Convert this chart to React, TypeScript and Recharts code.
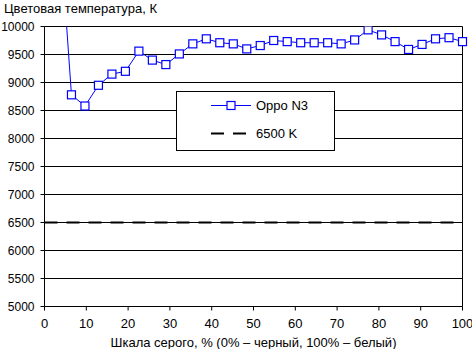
import { LineChart, Line, XAxis, YAxis, CartesianGrid, ReferenceLine } from 'recharts';

// gray level steps, 32 points from 0% to 100%
const steps = Array.from({ length: 32 }, (_, i) => i);
const grayLevels = steps.map((i) => (i * 100) / 31);

// measured color temperature, K (first two points lie above the plot)
const oppoN3 = [
  13500, 12200, 8780, 8580, 8950, 9150, 9200, 9560, 9400, 9320, 9510, 9690, 9780, 9710, 9690, 9600,
  9660, 9750, 9730, 9710, 9710, 9710, 9690, 9760, 9940, 9850, 9730, 9590, 9680, 9780, 9800, 9730,
];
const reference = 6500;

const xTicks = [0, 10, 20, 30, 40, 50, 60, 70, 80, 90, 100];
const yTicks = [5000, 5500, 6000, 6500, 7000, 7500, 8000, 8500, 9000, 9500, 10000];

const data = grayLevels.map((x, i) => ({ x, oppo: oppoN3[i], ref: reference }));

const FONT = '"Liberation Sans", Arial, sans-serif';
const BLUE = '#0000ff';

const SquareDot = (props: any) => {
  const { cx, cy, index } = props;
  if (cx == null || cy == null) return <g key={index} />;
  return (
    <rect key={index} x={cx - 4} y={cy - 4} width={8} height={8} fill="#fff" stroke={BLUE} strokeWidth={1.2} />
  );
};

// legend box drawn on top of the plot, as in the original
const LegendBox = () => (
  <div
    style={{
      position: 'absolute',
      left: 176,
      top: 91,
      width: 157,
      height: 58,
      border: '1px solid #000',
      background: '#fff',
    }}
  >
    <svg width={157} height={58} style={{ position: 'absolute', left: 0, top: 0 }}>
      <line x1={34} x2={74} y1={13.5} y2={13.5} stroke={BLUE} strokeWidth={1} />
      <rect x={50} y={9.5} width={8} height={8} fill="#fff" stroke={BLUE} strokeWidth={1.2} />
      <text x={79} y={18} fontFamily={FONT} fontSize={13} fill="#000">Oppo N3</text>
      <line x1={34} x2={74} y1={41.5} y2={41.5} stroke="#000" strokeWidth={2} strokeDasharray="13 9" />
      <text x={79} y={46} fontFamily={FONT} fontSize={13} fill="#000">6500 K</text>
    </svg>
  </div>
);

export default function App() {
  return (
    <div style={{ position: 'absolute', left: 0, top: 0, width: 472, height: 349, background: '#fff' }}>
      <div style={{ position: 'absolute', left: 4, top: 1, fontFamily: FONT, fontSize: 13, color: '#000' }}>
        Цветовая температура, К
      </div>
      <LineChart
        width={472}
        height={349}
        data={data}
        margin={{ top: 26.5, right: 9.5, bottom: 0, left: 0 }}
      >
        <CartesianGrid horizontal vertical={false} stroke="#000" strokeOpacity={1} />
        <XAxis
          dataKey="x"
          type="number"
          domain={[0, 100]}
          ticks={xTicks}
          interval={0}
          height={42.5}
          stroke="#000"
          tickSize={4}
          tickMargin={8}
          tick={{ fill: '#000', fontSize: 13, fontFamily: FONT }}
          label={{ value: 'Шкала серого, % (0% – черный, 100% – белый)', position: 'insideBottom', offset: 2, fill: '#000', fontSize: 13, fontFamily: FONT }}
        />
        <YAxis
          type="number"
          domain={[5000, 10000]}
          allowDataOverflow
          ticks={yTicks}
          interval={0}
          width={44.5}
          stroke="#000"
          tickSize={4}
          tickMargin={6}
          tick={{ fill: '#000', fontSize: 12, fontFamily: FONT }}
        />
        <ReferenceLine x={100} stroke="#000" />
        <Line
          dataKey="ref"
          stroke="#000"
          strokeWidth={2}
          strokeDasharray="13 9"
          dot={false}
          isAnimationActive={false}
        />
        <Line
          dataKey="oppo"
          stroke={BLUE}
          strokeWidth={1}
          dot={<SquareDot />}
          isAnimationActive={false}
        />
      </LineChart>
      <LegendBox />
    </div>
  );
}
